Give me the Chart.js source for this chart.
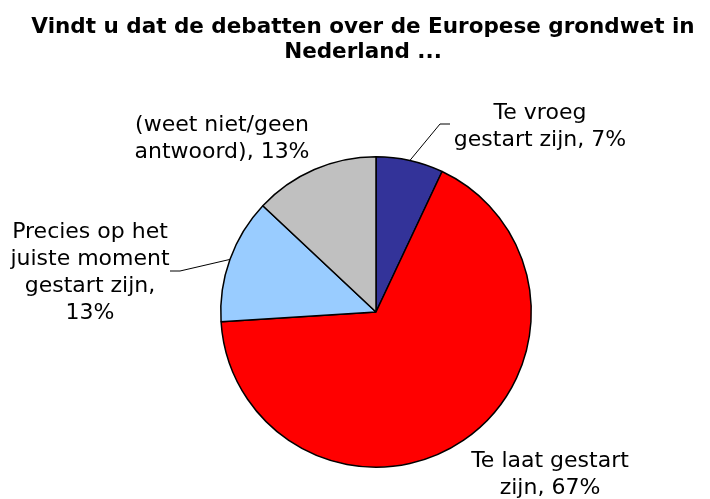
<!DOCTYPE html>
<html>
<head>
<meta charset="utf-8">
<script src="https://cdn.jsdelivr.net/npm/chart.js@4/dist/chart.umd.min.js"></script>
<style>
  html, body { margin: 0; padding: 0; background: #ffffff; }
  #c { display: block; }
</style>
</head>
<body>
<canvas id="c" width="710" height="499"></canvas>
<script>
// ---- data ----
const categories = [
  "Te vroeg gestart zijn",
  "Te laat gestart zijn",
  "Precies op het juiste moment gestart zijn",
  "(weet niet/geen antwoord)"
];
const values = [7, 67, 13, 13];
const labelLines = [
  ["Te vroeg", "gestart zijn, 7%"],
  ["Te laat gestart", "zijn, 67%"],
  ["Precies op het", "juiste moment", "gestart zijn,", "13%"],
  ["(weet niet/geen", "antwoord), 13%"]
];
const titleLines = ["Vindt u dat de debatten over de Europese grondwet in", "Nederland ..."];

// ---- styles / layout ----
const colors = ["#333399", "#FF0000", "#99CCFF", "#C0C0C0"];
const FONT = "'DejaVu Sans', Verdana, sans-serif";
// label centre offsets relative to pie centre
const labelOffsets = [[164, -185], [174, 163], [-286, -39], [-154, -173]];
// leader lines (offsets from pie centre), null = no leader
const leaders = [[[64, -188], [74, -188]], null, [[-196, -41], [-206, -41]], null];

const labelPlugin = {
  id: 'labelPlugin',
  afterDraw(chart) {
    const ctx = chart.ctx;
    // title
    ctx.save();
    ctx.fillStyle = '#000';
    ctx.textAlign = 'center';
    ctx.textBaseline = 'middle';
    ctx.font = "bold 21.5px " + FONT;
    titleLines.forEach((t, i) => ctx.fillText(t, 363, 27 + i * 25));
    ctx.restore();

    const meta = chart.getDatasetMeta(0);
    meta.data.forEach((arc, i) => {
      const cx = arc.x, cy = arc.y;
      const r = arc.outerRadius;
      const mid = (arc.startAngle + arc.endAngle) / 2;
      // leader line
      if (leaders[i]) {
        ctx.save();
        ctx.strokeStyle = '#000';
        ctx.lineWidth = 1;
        ctx.beginPath();
        ctx.moveTo(cx + Math.cos(mid) * r, cy + Math.sin(mid) * r);
        leaders[i].forEach(p => ctx.lineTo(cx + p[0], cy + p[1]));
        ctx.stroke();
        ctx.restore();
      }
      // label text
      ctx.save();
      ctx.fillStyle = '#000';
      ctx.textAlign = 'center';
      ctx.textBaseline = 'middle';
      ctx.font = "22px " + FONT;
      const lines = labelLines[i];
      const lh = 27;
      const lx = cx + labelOffsets[i][0];
      const ly0 = cy + labelOffsets[i][1] - (lines.length - 1) * lh / 2;
      lines.forEach((t, k) => ctx.fillText(t, lx, ly0 + k * lh));
      ctx.restore();
    });
  }
};

new Chart(document.getElementById('c'), {
  type: 'pie',
  data: {
    labels: categories,
    datasets: [{
      data: values,
      backgroundColor: colors,
      borderColor: '#000000',
      borderWidth: 1.5,
      hoverOffset: 0
    }]
  },
  options: {
    responsive: false,
    animation: false,
    events: [],
    layout: { padding: { top: 156, bottom: 31, left: 220, right: 178 } },
    plugins: {
      legend: { display: false },
      title: { display: false },
      tooltip: { enabled: false }
    }
  },
  plugins: [labelPlugin]
});
</script>
</body>
</html>
